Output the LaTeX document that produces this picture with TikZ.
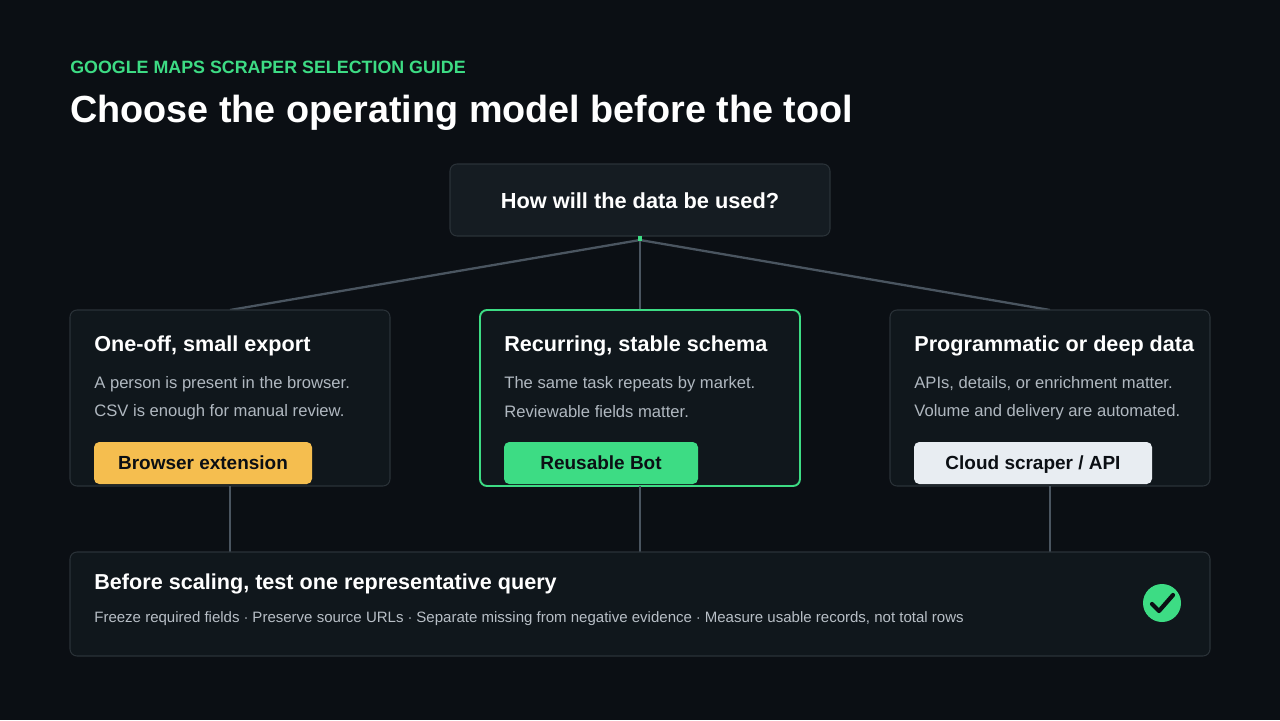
\documentclass[tikz,border=0pt]{standalone}
\usepackage{fontspec}
\setmainfont{Liberation Sans}
\usetikzlibrary{positioning}
\definecolor{bgdark}{HTML}{0B0F14}
\definecolor{cardbg}{HTML}{10171C}
\definecolor{cardline}{HTML}{2A3238}
\definecolor{wire}{HTML}{4A5560}
\definecolor{mint}{HTML}{3DDC84}
\definecolor{amber}{HTML}{F5BE4F}
\definecolor{paper}{HTML}{E8EDF2}
\definecolor{mute}{HTML}{B0B8C0}
\tikzset{
  card/.style={draw=cardline, fill=cardbg, rounded corners=4pt, line width=0.6pt, inner sep=0pt},
  head/.style={anchor=west, text=white, font=\bfseries\fontsize{12.3}{14}\selectfont, inner sep=0pt},
  body/.style={anchor=west, text=mute, font=\fontsize{9.45}{11}\selectfont, inner sep=0pt},
  pill/.style={rounded corners=3pt, inner sep=0pt, text=bgdark, text height=7.5pt, text depth=0pt, font=\bfseries\fontsize{10.8}{12}\selectfont},
  wire/.style={draw=wire, line width=1.3pt}
}
\begin{document}
\begin{tikzpicture}[x=0.02cm,y=-0.02cm]
  \fill[bgdark] (0,0) rectangle (1280,720);
  \useasboundingbox (0,0) rectangle (1280,720);
  % heading
  \node[anchor=west, inner sep=0pt, text=mint, font=\bfseries\fontsize{10.15}{11}\selectfont] (kicker) at (70,67) {GOOGLE MAPS SCRAPER SELECTION GUIDE};
  \node[anchor=west, inner sep=0pt, text=white, font=\bfseries\fontsize{21.5}{24}\selectfont] (title) at (70,113) {Choose the operating model before the tool};
  % question
  \draw[card, fill=cardbg!80!cardline] (450,164) rectangle (830,236);
  \node[text=white, font=\bfseries\fontsize{12.4}{13}\selectfont] (ask) at (640,201) {How will the data be used?};
  \coordinate (hub) at (640,240);
  \coordinate (one) at (230,310);
  \coordinate (two) at (640,310);
  \coordinate (three) at (1050,310);
  \draw[wire] (hub) -- (one);
  \draw[wire] (hub) -- (two);
  \draw[wire] (hub) -- (three);
  \fill[mint] (638,236) rectangle (642,241);
  % cards
  \draw[card] (70,310) rectangle (390,486);
  \draw[card, draw=mint, line width=1.1pt] (480,310) rectangle (800,486);
  \draw[card] (890,310) rectangle (1210,486);
  \node[head] (h1) at (94,346) {One-off, small export};
  \node[body] (a1) at (94,384) {A person is present in the browser.};
  \node[body] (b1) at (94,412) {CSV is enough for manual review.};
  \node[head] (h2) at (504,346) {Recurring, stable schema};
  \node[body] (a2) at (504,384) {The same task repeats by market.};
  \node[body] (b2) at (504,412) {Reviewable fields matter.};
  \node[head] (h3) at (914,346) {Programmatic or deep data};
  \node[body] (a3) at (914,384) {APIs, details, or enrichment matter.};
  \node[body] (b3) at (914,412) {Volume and delivery are automated.};
  % pills
  \fill[amber, rounded corners=3pt] (94,442) rectangle (312,484);
  \node[pill] (p1) at (203,463) {Browser extension};
  \fill[mint, rounded corners=3pt] (504,442) rectangle (698,484);
  \node[pill] (p2) at (601,463) {Reusable Bot};
  \fill[paper, rounded corners=3pt] (914,442) rectangle (1152,484);
  \node[pill] (p3) at (1033,463) {Cloud scraper / API};
  % down to check
  \coordinate (d1) at (230,486); \coordinate (e1) at (230,552);
  \coordinate (d2) at (640,486); \coordinate (e2) at (640,552);
  \coordinate (d3) at (1050,486); \coordinate (e3) at (1050,552);
  \draw[wire] (d1) -- (e1);
  \draw[wire] (d2) -- (e2);
  \draw[wire] (d3) -- (e3);
  \draw[card] (70,552) rectangle (1210,656);
  \node[head] (hcheck) at (94,584) {Before scaling, test one representative query};
  \node[body, text=mute!90!white, font=\fontsize{8.55}{10}\selectfont] (steps) at (94,619)
    {Freeze required fields $\cdot$ Preserve source URLs $\cdot$ Separate missing from negative evidence $\cdot$ Measure usable records, not total rows};
  \fill[mint] (1162,603) circle (19);
  \draw[bgdark, line width=2.4pt, line cap=round, line join=round] (1152,604) -- (1159,611) -- (1173,595);
\end{tikzpicture}
\end{document}
